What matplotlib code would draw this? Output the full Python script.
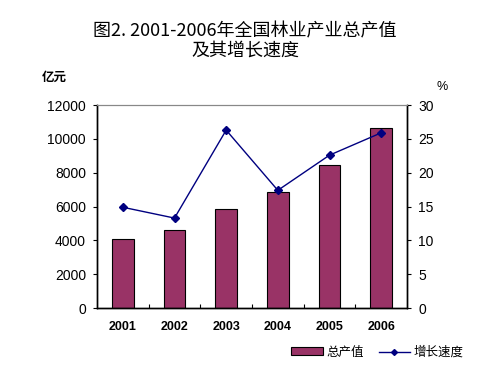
import matplotlib
matplotlib.use('Agg')
import matplotlib.pyplot as plt
import numpy as np
from matplotlib.lines import Line2D
from matplotlib.patches import Patch

plt.rcParams['font.family'] = ['Noto Sans CJK SC', 'DejaVu Sans']

years = ['2001', '2002', '2003', '2004', '2005', '2006']
output = [4090, 4600, 5860, 6890, 8430, 10650]   # 亿元
growth = [14.9, 13.3, 26.3, 17.4, 22.6, 25.9]    # %

bar_color = '#993366'
line_color = '#000080'
num_font = ['Liberation Sans', 'DejaVu Sans']

fig = plt.figure(figsize=(5.0, 3.78), dpi=100)
ax = fig.add_axes([0.194, 0.185, 0.62, 0.537])
ax2 = ax.twinx()

x = np.arange(len(years))
ax.bar(x, output, width=0.42, color=bar_color, edgecolor='black',
       linewidth=0.8, zorder=2)
ax2.plot(x, growth, color=line_color, marker='D', markersize=4,
         linewidth=1.0, zorder=3)

ax.set_xlim(-0.5, len(years) - 0.5)
ax.set_ylim(0, 12000)
ax2.set_ylim(0, 30)
ax.set_yticks(np.arange(0, 12001, 2000))
ax2.set_yticks(np.arange(0, 31, 5))

# category labels, ticks between categories
ax.set_xticks(x)
ax.set_xticklabels(years, family=num_font, fontsize=9, fontweight='bold')
ax.tick_params(axis='x', length=0, pad=9)
ax.set_xticks(np.arange(0.5, len(years) - 0.5, 1), minor=True)
ax.tick_params(axis='x', which='minor', direction='in', length=3, width=0.8)

ax.tick_params(axis='y', direction='out', length=3, width=0.8, pad=5)
ax2.tick_params(axis='y', direction='out', length=3, width=0.8, pad=5)
for lab in ax.get_yticklabels() + ax2.get_yticklabels():
    lab.set_family(num_font)
    lab.set_fontsize(10)

for a in (ax, ax2):
    a.spines['top'].set_color('#888888')
    a.spines['top'].set_linewidth(0.8)
    for s in ('left', 'right', 'bottom'):
        a.spines[s].set_linewidth(1.0)

fig.text(0.49, 0.918, '图2. 2001-2006年全国林业产业总产值', ha='center',
         va='center', fontsize=13)
fig.text(0.49, 0.866, '及其增长速度', ha='center', va='center', fontsize=13)
fig.text(0.108, 0.795, '亿元', ha='center', va='center', fontsize=9,
         fontweight='bold')
fig.text(0.884, 0.77, '%', ha='center', va='center', fontsize=9,
         family=num_font)

handles = [Patch(facecolor=bar_color, edgecolor='black', linewidth=0.8),
           Line2D([], [], color=line_color, marker='D', markersize=3,
                  linewidth=1.0)]
fig.legend(handles, ['总产值', '增长速度'], loc='center',
           bbox_to_anchor=(0.755, 0.068), ncol=2, frameon=False,
           fontsize=9, handlelength=2.5, handleheight=0.6,
           columnspacing=1.2, handletextpad=0.3)

fig.savefig('out.png', dpi=100)
